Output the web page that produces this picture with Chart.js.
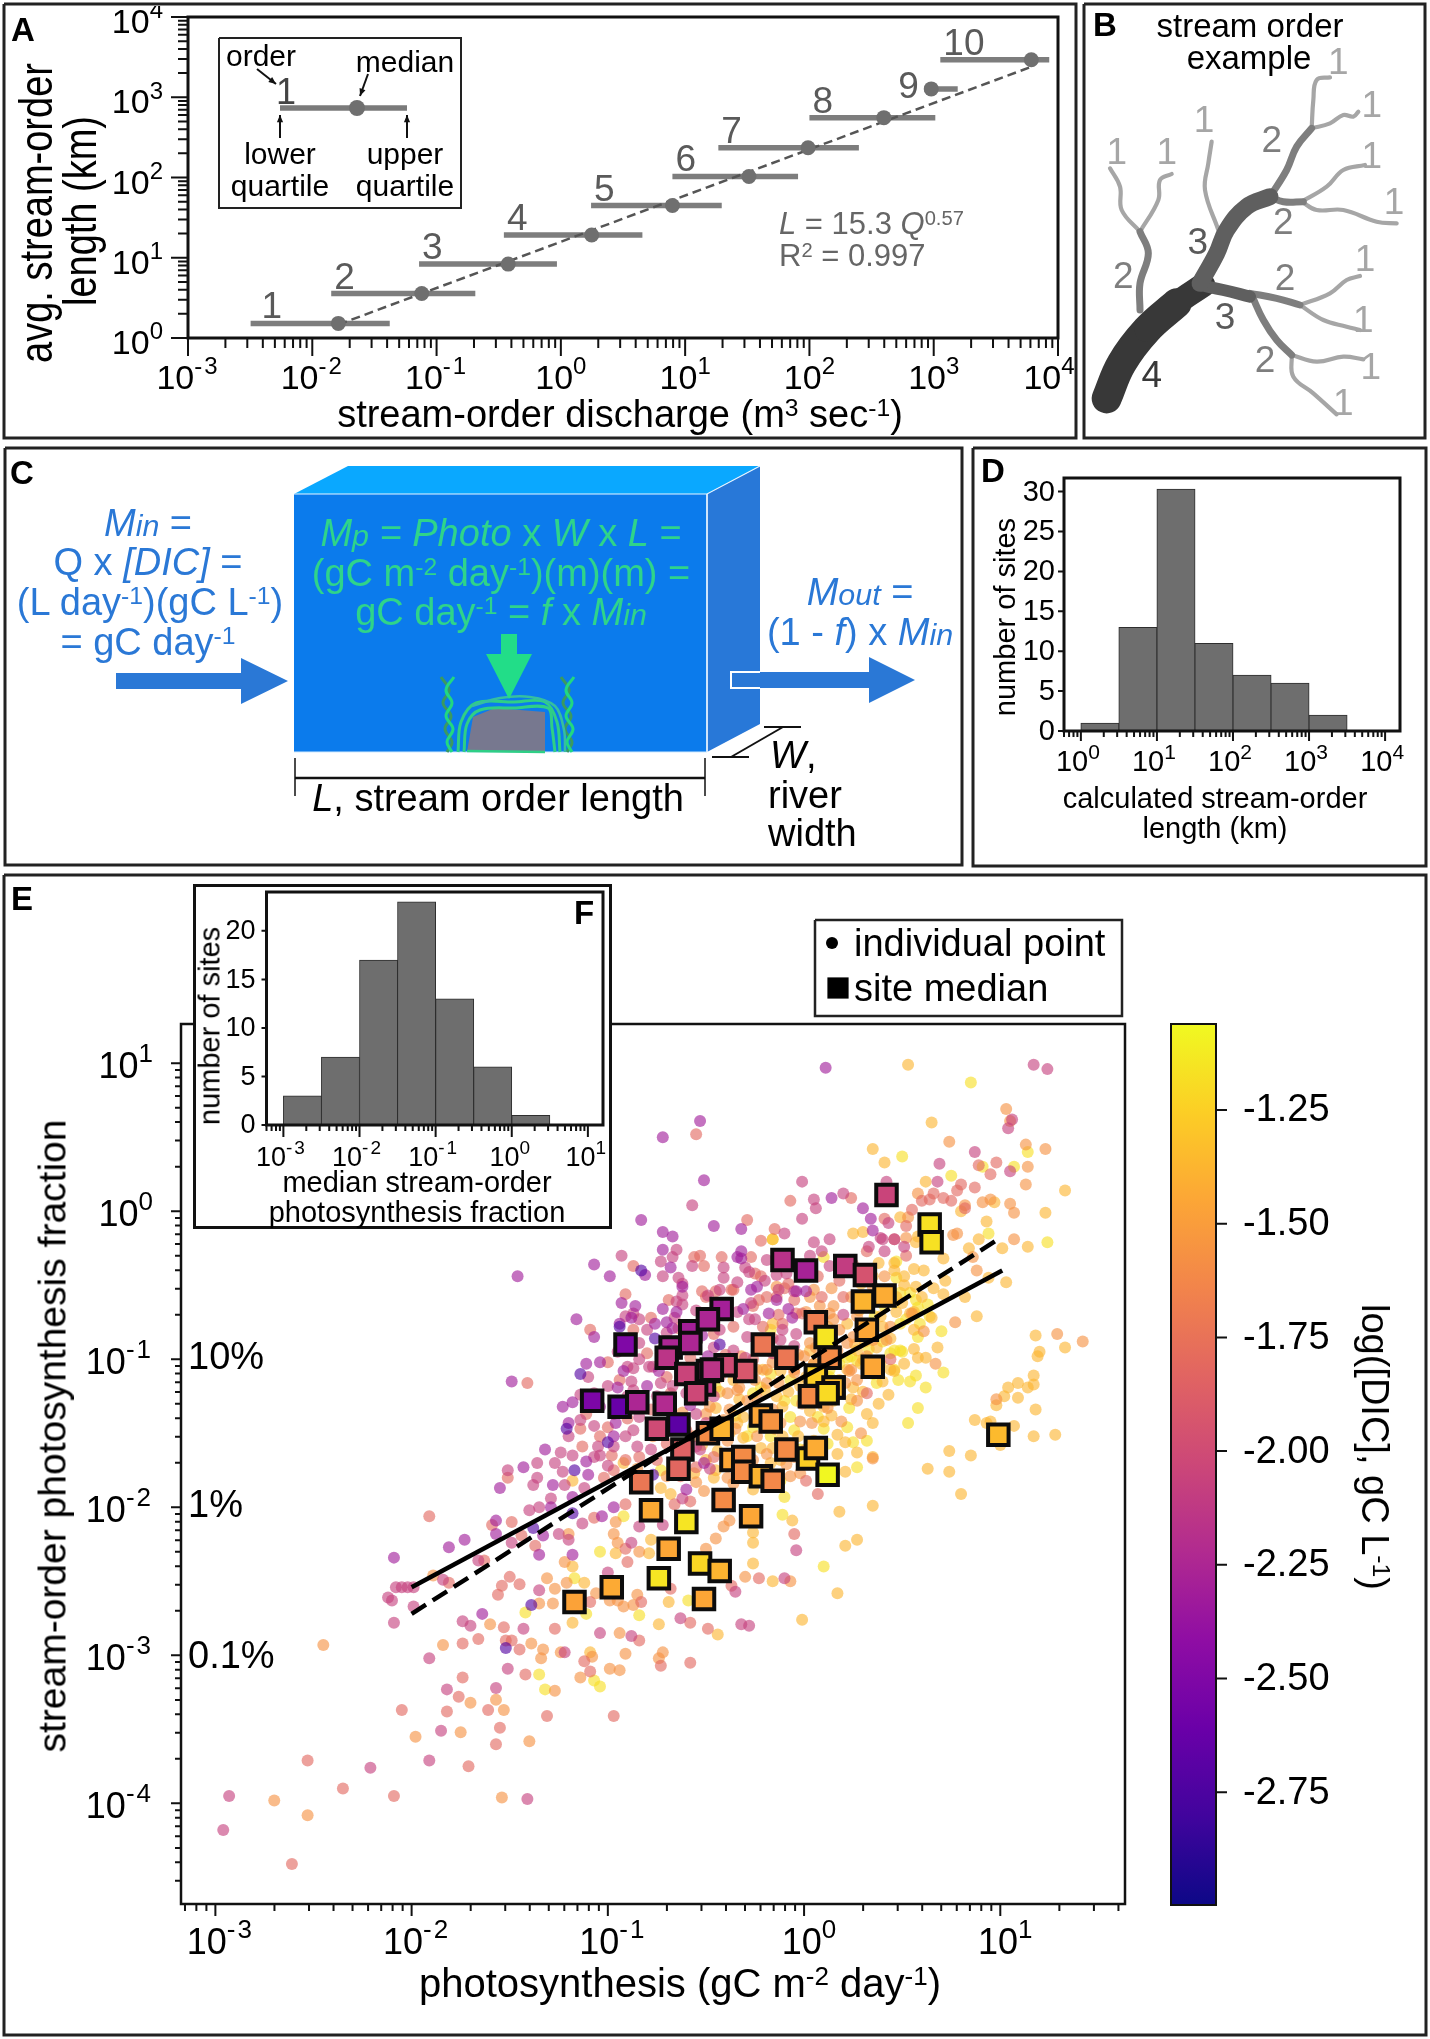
<!DOCTYPE html>
<html>
<head>
<meta charset="utf-8">
<title>Stream order and photosynthesis fraction</title>
<script src="https://cdn.jsdelivr.net/npm/chart.js@4"></script>
<style>
body { margin: 0; background: #fff; width: 1430px; height: 2039px; position: relative; overflow: hidden; font-family: "Liberation Sans", Arial, sans-serif; }
canvas { position: absolute; }
.lab { position: absolute; white-space: nowrap; line-height: 1; }
.lab sup { font-size: .65em; position: relative; top: -.45em; vertical-align: baseline; line-height: 0; }
.lab small { font-size: .8em; }
</style>
</head>
<body>
<script>
// Panel A: stream-order discharge quartiles and average length
const orders = ["1", "2", "3", "4", "5", "6", "7", "8", "9", "10"];
const dischargeQ25 = [0.00319, 0.0142, 0.0723, 0.348, 1.75, 7.9, 18.5, 100, 840, 1130];
const dischargeMedian = [0.0162, 0.076, 0.377, 1.77, 7.9, 32.6, 97.5, 397, 955, 6100];
const dischargeQ75 = [0.042, 0.205, 0.93, 4.53, 19.7, 81, 250, 1030, 1560, 8500];
const orderLength = [1.52, 3.58, 8.33, 19.2, 44.7, 103, 235, 557, 1270, 2930];
const lengthFit = [[0.0162, 1.47], [6100, 2400]];
const dischargeExps = [-3, -2, -1, 0, 1, 2, 3, 4];
const lengthExps = [0, 1, 2, 3, 4];

// Panel D: histogram of calculated length, half-decade bins
const lengthBinCentres = [1.78, 5.62, 17.8, 56.2, 178, 562, 1778];
const lengthBinSites = [1, 13, 30.3, 11, 7, 6, 2];
const lengthBinExps = [0, 1, 2, 3, 4];
const siteTicks = [0, 5, 10, 15, 20, 25, 30];

// Panel F: histogram of median photosynthesis fraction
const fractionBinCentres = [0.00178, 0.00562, 0.0178, 0.0562, 0.178, 0.562, 1.78];
const fractionBinSites = [3, 7, 17, 23, 13, 6, 1];
const fractionBinExps = [-3, -2, -1, 0, 1];
const fractionSiteTicks = [0, 5, 10, 15, 20];

// Panel E: individual points as [log10 photosynthesis, log10 fraction], one list per DIC level
const dicLevels = [-1.18, -1.38, -1.56, -1.82, -2.08, -2.32, -2.72];
const pointsYellow = [[.85,.87],[.50,.37],[.91,.30],[1.07,.30],[.75,.24],[1.14,.40],[1.24,-.21],[.94,-.15],[.10,-.31],[.47,-.34],[.63,-.63],[.58,-.65],[.57,-.60],[.70,-.81],[.50,-.95],[.71,-1.09],[.57,-1.11],[.44,-.96],[.49,-.94],[.46,-1.07],[.58,-.85],[.54,-.55],[.64,-.71],[.49,-.76],[-.17,-.80],[-.16,-.19],
  [-.26,-1.23],[-.07,-1.39],[.10,-1.47],[-.04,-1.28],[.23,-1.33],[.22,-.99],[.13,-1.07],[-.07,-1.14],[-.45,-1.19],[-.17,-1.52],[-.12,-1.82],[-.29,-1.79],[-.02,-1.61],[.12,-1.57],[-.92,-2.06],[-1.04,-2.30],[-1.17,-2.48],[-.59,-2.63],[-.84,-2.73],[-1.42,-2.71],[-1.11,-2.72],[-.11,-2.05],[-.10,-1.93],[.10,-2.40],[.32,-1.55],[.25,-1.56],[.27,-1.73],
  [-1.35,-3.13],[-1.32,-3.23],[-1.07,-3.17],[-1.04,-3.21],[.48,-1.14],[.37,-1.16],[.54,-1.15],[.62,-1.19],[.58,-1.33],[.53,-1.43],
  [.13,-1.12],[.46,-.94],[.32,-.80],[.46,-.62],[-.17,-1.10],[-.73,-1.75],[.08,-1.61],[-.26,-1.46],[.05,-1.27],[.18,-1.23],[.22,-1.46],[-.22,-1.19],[-.31,-1.07],[.49,-.55],[.47,-.45],[.41,-.64],[.18,-1.03],[.35,-1.10],[.59,-.76],
  [-.35,-1.38],[-.18,-1.42],[-.05,-1.48],[.07,-1.39],[.14,-1.16],[.27,-1.01],[.33,-.93],[.40,-.88],[.24,-.98],[.06,-1.19],[-.10,-1.28],[-.29,-1.52],[.36,-.71],[.52,-.73]];
const pointsAmber = [[.53,.99],[.65,.60],[.35,.42],[.41,.33],[.62,.20],[1.33,.14],[.80,0],[.97,.06],[.93,-.07],[1.23,-.01],[.89,-.19],[1.14,-.24],[1.01,-.25],[.84,-.25],[.71,-.32],[1.03,-.48],[.94,-.45],[.71,-.56],[.82,-.58],[.88,-.71],[.65,-.72],[.56,-.68],[.51,-.44],[.46,-.40],[.56,-.39],[.61,-.40],[.51,-.50],[.38,-.35],[.25,-.15],[.30,-.14],[-.16,-.19],[.58,-.17],[.57,-.21],[.49,-.04],[.68,-.92],[.56,-.93],[.58,-.99],[.62,-.99],[1.18,-.84],[1.33,-.92],[1.20,-.95],[1.19,-.98],[1.17,-1.11],[.22,-.76],[.32,-.80],[.39,-.71],[.47,-.68],[.03,-.94],[.27,-.94],[.44,-1.07],[.56,-.80],[-.16,-.76],
  [-.31,-1.39],[-.11,-1.32],[.03,-1.35],[.10,-1.32],[.17,-1.51],[.30,-1.0],[.34,-1.07],[.18,-1.14],[.25,-1.19],[-.45,-1.33],[-.21,-1.07],[-.36,-1.14],[-.43,-1.22],[-.31,-1.53],[-.11,-1.52],[-.17,-1.70],[-.45,-1.75],[-.46,-1.80],[-.26,-1.88],[-.16,-1.60],[.05,-1.55],[.17,-1.64],[-.92,-1.70],[-.96,-2.31],[-.79,-2.31],[-.78,-2.22],[-1.18,-1.82],[-1.18,-2.40],[-1.12,-2.51],[-.69,-2.64],[-1.18,-2.78],[-1.09,-2.98],[-.74,-2.79],[-.44,-2.86],[-.01,-2.76],[-.16,-2.50],[-.26,-2.38],[.17,-2.58],[.21,-2.26],[.27,-2.22],[-.26,-2.24],[-.26,-2.17],[-.06,-2.09],[.18,-2.03],[.35,-1.99],[.35,-1.66],[.27,-1.63],[.21,-1.76],[.21,-1.56],[-.68,-1.91],[-.73,-1.87],
  [.63,-1.74],[.74,-1.62],[.74,-1.76],[.85,-1.65],[.80,-1.91],[.87,-1.41],[.93,-1.43],[.95,-1.42],[1.07,-1.45],[1.0,-1.58],[1.17,-1.52],[1.28,-1.51],[1.18,-1.34],[1.09,-1.26],[.98,-1.31],[1.02,-1.25],[1.04,-1.19],[1.09,-1.16],[1.14,-1.19],[1.17,-1.17],[.40,-1.15],[.46,-1.08],
  [.12,-.78],[.05,-1.03],[.22,-1.07],[.39,-1.03],[.40,-.78],[.35,-.44],[.46,-.35],[.05,-1.07],[-.56,-1.77],[-.50,-1.68],[-.39,-1.68],[-.12,-1.68],[-.21,-1.39],[-.34,-1.43],[.32,-1.37],[.35,-1.43],[-.02,-1.18],[-.14,-1.25],[.42,-.58],[.57,-.51],[.29,-.49],[.32,-.64],[.47,-.58],[.10,-.87],[.29,-1.03],[.51,-1.03],
  [-.28,-1.10],[-.20,-1.21],[-.12,-1.08],[-.08,-1.22],[.01,-1.12],[.08,-1.17],[.15,-1.28],[.24,-1.27],[.30,-1.22],[.38,-1.30],[.43,-1.24],[.26,-.90],[.31,-.88],[.37,-.92],[.44,-.86],[.28,-.67],[.34,-.62],[.38,-.58],[.43,-.53],[.50,-.62],[.54,-.69],[.60,-.58],[.66,-.52],[.72,-.47],[-.03,-1.52],[-.22,-1.60],[-.30,-1.62],[-.38,-1.50],[-.44,-1.62],[-.52,-1.58],[.10,-1.42],[.14,-1.38],[-.33,-1.27],[-.25,-1.33]];
const pointsOrange = [[1.03,.69],[1.05,.61],[.74,.47],[1.13,.45],[1.23,.42],[1.14,.30],[1.13,.18],[.58,.12],[.82,.04],[.91,.06],[.95,.08],[1.05,.05],[1.07,-.01],[1.07,-.19],[.86,-.31],[.88,-.40],[.41,-.44],[.53,-.04],[.52,-.18],[.55,-.69],[.61,-.81],[.77,-.75],[.67,-1.03],[1.29,-.83],[1.42,-.88],[.78,-.15],[.76,-.16],[-.14,-.51],[.05,-.53],[.14,-.52],[.15,-.64],[.13,-.69],[.15,-.73],[.01,-.68],[.07,-.76],[.27,-.71],[.44,-.78],[.42,-.87],[0,-.98],[.05,-1.03],[.12,-1.0],[.22,-.89],[.24,-1.07],[.35,-.87],[.35,-1.67],
  [-.85,-1.74],[-.38,-1.34],[-.29,-1.28],[-.02,-1.42],[.04,-1.43],[.23,-1.08],[.27,-1.28],[-.50,-1.37],[-.34,-1.21],[-.19,-1.16],[-.13,-1.16],[-.46,-1.52],[-.39,-1.55],[-.24,-1.52],[-.19,-1.64],[-.26,-1.68],[-.39,-1.80],[-.36,-1.84],[-.07,-1.79],[-.02,-1.77],[-.09,-1.71],[-.55,-1.83],[-1.89,-2.46],[-.96,-2.10],[-.97,-2.18],[-.95,-2.24],[-.84,-2.30],[-1.20,-2.18],[-1.22,-2.37],[-1.31,-2.48],[-1.27,-2.55],[-1.21,-2.51],[-1.28,-2.65],[-1.35,-2.65],[-1.60,-2.79],[-1.84,-2.93],[-1.39,-2.92],[-1.33,-2.96],[-1.34,-3.02],[-1.24,-2.98],[-1.08,-3.01],[-.94,-2.85],[-.91,-2.99],[-.72,-2.98],[-.74,-3.02],[-1.06,-2.58],[-.99,-2.63],[-.95,-2.63],[-.92,-2.67],[-.85,-2.59],[-.87,-2.66],[-.30,-2.47],[-.07,-2.50],[-.45,-2.21],[-.50,-2.28],[-.41,-2.13],[-.38,-2.09],[-.51,-1.89],
  [-1.70,-3.32],[-1.53,-3.37],[-1.57,-3.30],[-1.27,-3.24],[-1.14,-3.15],[-.99,-3.09],[-.94,-3.10],[-2.45,-2.93],[-1.98,-3.55],[-1.75,-3.52],[-1.40,-3.58],[-1.54,-3.96],[-2.70,-3.98],[-2.53,-4.08],[.98,-1.27],
  [.03,-.58],[.08,-.64],[.04,-.73],[.03,-.89],[-.19,-1.07],[-.05,-1.09],[.32,-.98],[.25,-.85],[.18,-.80],[-.48,-1.32],[-.39,-1.23],[-.33,-1.19],[-.24,-1.07],[-.05,-1.07],[-.77,-1.52],[-.70,-1.79],[-.80,-1.84],[-.33,-1.70],[-.05,-1.66],[.01,-1.61],[-.12,-1.43],[-.41,-1.41],[.27,-1.14],[.29,-1.50],[.35,-.51],[.24,-.58],
  [-.32,-.98],[-.25,-1.14],[-.16,-1.02],[-.10,-.95],[-.03,-.97],[.06,-.92],[.10,-.97],[.17,-.94],[.21,-1.16],[.09,-1.24],[-.01,-1.30],[-.16,-1.34],[-.24,-1.26],[-.45,-1.44],[-.35,-1.47],[-.15,-1.47],[.12,-1.33],[.19,-1.42],[-.56,-1.52],[-.62,-1.36],[-.68,-1.48]];
const pointsSalmon = [[-.55,.52],[-.07,.07],[.98,.33],[.89,.31],[.95,.25],[-.29,-.06],[.24,.09],[.41,-.05],[-.15,-.12],[-.22,-.20],[.46,-.19],[.60,.07],[.64,.08],[.66,.12],[.71,.09],[.75,.07],[.78,.14],[.80,.18],[.87,.16],[.82,.02],[.52,-.10],[.55,.01],[.32,-.27],[.52,-.30],[-.87,-.37],[-.56,-.31],[-.53,-.30],[-.51,-.37],[-.42,-.31],[-.27,-.31],[-.52,-.54],[-.45,-.54],[-.37,-.53],[-.25,-.42],[-.22,-.44],[-.08,-.49],[.20,-.58],[-.91,-.56],[-.69,-.60],[-.78,-.72],[-.26,-.64],[-.19,-.58],[-.23,-.60],[-.13,-.70],[-.04,-.69],[-1.09,-.80],[-1,-1.02],[-.50,-.58],[-.36,-.53],[.09,-.58],[-.14,-.58],
  [-1.41,-1.16],[-1.14,-1.47],[-1.13,-1.59],[-1,-1.46],[-.91,-1.68],[-.98,-1.65],[-1.02,-1.80],[-.97,-1.75],[-1.51,-1.80],[-.91,-1.98],[-1.07,-2.07],[-1.91,-2.06],[-1.59,-2.12],[-1.49,-2.10],[-1.44,-2.19],[-.91,-2.28],[-.90,-2.37],[-1.37,-2.26],[-1.63,-2.36],[-1.81,-2.51],[-1.50,-2.47],[-1.54,-2.53],[-1.45,-2.52],[-1.56,-2.59],[-1.53,-2.81],[-1.66,-2.89],[-1.74,-2.92],[-1.52,-2.90],[-1.49,-2.90],[-1.45,-2.96],[-1.27,-2.82],[-1.12,-3.04],[-.84,-2.90],[-.83,-2.64],[-.73,-3.07],[-.58,-3.05],[-.58,-2.78],[-.49,-2.82],[-.68,-2.55],[-.37,-2.53],[-.23,-2.48],[-.05,-2.18],[-.55,-1.73],[-.46,-1.66],[-.58,-1.96],[-.66,-1.98],[.07,-1.91],[.01,-1.82],[-1.09,-2.64],
  [-1.74,-3.15],[-1.76,-3.28],[-2.05,-3.37],[-1.82,-3.38],[-1.61,-3.37],[-1.42,-3.13],[-1.31,-3.41],[-.97,-3.41],[-1.09,-3.11],[-1.55,-3.49],[-1.57,-3.60],[-1.71,-3.75],[-2.35,-3.90],[-2.09,-3.95],[-2.61,-4.41],[-2.53,-3.71],[.32,-1.23],[.44,-1.0],
  [-.05,-.60],[-.01,-.69],[-.11,-.76],[-.21,-.78],[-.36,-.78],[-.22,-.91],[-.26,-1.0],[-.51,-.71],[-.73,-.94],[-.87,-.80],[-.80,-.96],[-.70,-1.12],[-.43,-1.12],[-.36,-1.07],[-.94,-1.14],[-1.11,-1.37],[-.90,-1.40],[-.78,-1.34],[-1.04,-1.52],[-.84,-1.66],[-.75,-1.68],[-.70,-1.57],[-.60,-1.64],[-.63,-1.79],
  [-.64,-.79],[-.58,-.99],[-.46,-.83],[-.40,-.97],[-.16,-.86],[-.10,-.52],[-.02,-.42],[.07,-.44],[.18,-.47],[.25,-.36],[-.68,-1.23],[-.84,-1.27],[-.60,-1.48]];
const pointsPink = [[1.17,.99],[1.24,.96],[1.06,.62],[1.04,.56],[.69,.32],[.87,.40],[1.05,.27],[.68,.20],[.42,.20],[-.57,.04],[-.01,.20],[.05,.08],[.06,.02],[.20,.12],[-.01,-.05],[-.10,-.15],[.05,-.21],[.13,-.19],[.43,-.08],[.39,-.18],[.40,-.19],[.41,-.27],[.33,-.24],[.46,-.19],[.51,-.24],[-.65,-.26],[-.93,-.30],[-.73,-.34],[-.67,-.31],[-.57,-.37],[-.41,-.38],[-.41,-.45],[-.19,-.33],[-.30,-.38],[-.28,-.41],[.13,-.37],[-.72,-.44],[-.64,-.45],[-.62,-.49],[-.62,-.57],[-.49,-.57],[-.14,-.43],[-.09,-.42],[-.05,-.54],[-.87,-.69],[-.91,-.71],[-.65,-.61],[-.62,-.63],[-.34,-.68],[-.90,-1.05],[-.87,-1.06],[-.79,-1.05],[-.84,-.89],[-.43,-.53],[-.27,-.62],[-.25,-.73],[-.11,-.80],[.20,-.70],
  [-.88,-1.15],[-1.10,-1.12],[-1.14,-1.24],[-1.20,-1.52],[-1.07,-1.45],[-1.05,-1.59],[-.91,-1.52],[-1.04,-1.65],[-1.24,-1.63],[-1.18,-1.65],[-1.27,-1.70],[-1.36,-1.70],[-1.51,-1.75],[-1.36,-1.80],[-1.38,-1.85],[-1.23,-1.76],[-1.22,-1.85],[-1.12,-1.87],[-.85,-1.59],[-.78,-1.61],[-1.29,-1.94],[-1.40,-2.02],[-1.35,-2],[-1.25,-2.18],[-1.20,-2.22],[-1.13,-2.11],[-.88,-2.24],[-1.49,-2.24],[-1.66,-2.36],[-1.84,-2.49],[-2.08,-2.54],[-2.05,-2.54],[-2.02,-2.54],[-1.99,-2.54],[-2.12,-2.61],[-2.10,-2.63],[-1.99,-2.67],[-2.09,-2.78],[-1.35,-2.56],[-1.00,-2.44],[-1.74,-2.77],[-1.70,-2.80],[-1.43,-2.82],[-1.91,-3.02],[-1.22,-2.98],[-1.04,-2.85],[-.88,-2.87],[-.63,-2.75],[-.32,-2.79],[-.28,-2.80],[-.35,-2.57],[-.10,-2.48],[-.04,-2.29],[-.62,-1.94],[-.72,-2.12],[-.84,-2.13],[-.48,-1.74],[-.53,-1.61],
  [-1.82,-3.23],[-1.57,-3.22],[-1.51,-3.09],[-1.85,-3.51],[-2.21,-3.76],[-1.91,-3.71],[-1.41,-3.97],[-2.93,-3.95],[-2.96,-4.18],
  [-.13,-.53],[-.04,-.83],[-.05,-.91],[-.12,-.87],[-.28,-.73],[-.29,-.85],[-.16,-.96],[-.36,-.94],[-.43,-.80],[-.55,-.67],[-.53,-.76],[-.60,-.83],[-.80,-.80],[-.84,-.73],[-.90,-.91],[-.84,-1.0],[-.77,-1.05],[-.53,-1.07],[-1.0,-1.18],[-.87,-1.21],[-.73,-1.16],[-.67,-1.18],[-.60,-1.23],[-1.07,-1.23],[-.97,-1.37],[-.84,-1.39],[-.87,-1.48],[-1.14,-1.41],[-1.07,-1.66],[-.97,-1.59],[-.55,-1.59],[-.55,-1.37],[-.53,-1.18],[-.46,-1.25],
  [-.95,-.95],[-.70,-.82],[-.66,-.72],[-.57,-.90],[-.46,-.92],[-.40,-.68],[-.34,-.48],[-.20,-.47],[-.08,-.36],[.03,-.30],[.09,-.27],[-.43,-1.00],[-.30,-.99],[-.75,-1.25],[-.66,-1.40],[-.50,-1.43],[-1.0,-1.72],[-.90,-1.25]];
const pointsPurple = [[.11,.97],[-.53,.61],[-.72,.50],[-.51,.21],[-.83,-.06],[-.46,-.10],[-.32,-.12],[-.72,-.14],[-.67,-.17],[.14,.09],[.30,.02],[.34,-.05],[.35,-.13],[-.72,-.26],[-1.07,-.36],[-.81,-.43],[-.99,-.44],[-1.46,-.44],[-.68,-.38],[-.32,-.27],[-.34,-.31],[-.32,-.32],[-.62,-.51],[-.24,-.51],[.01,-.54],[-.93,-.62],[-.86,-.64],[-.72,-.66],[-.65,-.68],[-1.16,-.73],[-.94,-.76],[-1.07,-.85],[-.76,-.76],[-.70,-.75],[-.67,-.79],[-.31,-.66],[-.18,-.69],[-.08,-.66],[-.06,-.72],[-1.11,-1.03],[-1.04,-1.02],[-.49,-.98],
  [-1.49,-1.15],[-1.23,-1.32],[-1.18,-1.29],[-1.20,-1.43],[-.96,-1.43],[-1.11,-1.69],[-1.32,-1.61],[-1.43,-1.73],[-1.55,-1.87],[-1.10,-1.78],[-1.28,-1.85],[-1.18,-1.93],[-1.29,-2],[-1.57,-2.09],[-1.57,-2.18],[-1.33,-2.19],[-1.03,-2.06],[-.97,-2],[-1.81,-2.27],[-1.73,-2.22],[-1.35,-2.32],[-1.18,-2.32],[-2.09,-2.34],[-1.64,-2.72],[-.60,-1.88],[-.04,-.54],[-.95,-1.19],
  [-.80,-1.18],[-1.04,-1.32],[-.97,-1.52],[-.51,-1.70],[-.58,-1.31],[-.88,-.72],[-.52,-.84],[-.43,-.62],[-.27,-.53],[-.14,-.60],[-.74,-1.08],[-.92,-1.08]];
const pointsIndigo = [[-.83,-.40],[-.76,-.86],[-.43,-.90],[-1.14,-1.10],[-1.21,-1.47],[-1,-1.56],[-1.17,-1.75],[-.77,-1.78],[-1.38,-2.14],[-1.18,-2.04],[-1.39,-2.66],[-1.52,-2.95],[-.94,-.78]];
const individualPoints = [pointsYellow, pointsAmber, pointsOrange, pointsSalmon, pointsPink, pointsPurple, pointsIndigo];

// Site medians as [log10 photosynthesis, log10 fraction, log10 DIC]
const siteMedians = [[-.58,-.81,-2.3],[-.68,-.92,-2.25],[-.51,-1.17,-2.15],[.42,.11,-2.05],[.64,-.09,-1.17],[.65,-.21,-1.17],[-.11,-.33,-2.17],[.01,-.40,-2.28],[.21,-.37,-2.1],[.31,-.43,-1.95],[.41,-.57,-1.42],[.30,-.61,-1.38],[.32,-.80,-1.45],[.06,-.75,-1.68],[.11,-.85,-1.15],[-.21,-.90,-1.72],[-.09,-.99,-1.72],[.35,-1.05,-1.45],[.13,-.99,-1.6],[.15,-1.19,-1.35],[.06,-1.11,-1.25],[-.30,-1.08,-1.92],[-.40,-1.04,-2.0],[-.49,-1.08,-2.15],[-.42,-.66,-2.3],[-.49,-.73,-2.25],[-.70,-.99,-2.15],[-.58,-.89,-2.25],[-.91,-.90,-2.5],[-.60,-1.10,-2.05],[-.47,-1.07,-2.15],[-1.08,-1.28,-2.52],[-.94,-1.32,-2.62],[-.85,-1.29,-2.25],[-.71,-1.30,-2.22],[-.75,-1.47,-2.0],[-.64,-1.44,-2.68],[-.55,-1.23,-2.02],[-.62,-1.61,-1.85],[-.64,-1.74,-1.82],[-.83,-1.83,-1.72],[-.78,-2.02,-1.43],[-.60,-2.10,-1.15],[-.69,-2.28,-1.45],[-.53,-2.38,-1.22],[-.43,-2.43,-1.38],[-.74,-2.48,-1.15],[-.98,-2.54,-1.43],[-1.17,-2.64,-1.47],[-.51,-2.62,-1.45],[-.41,-1.95,-1.6],[-.27,-2.06,-1.45],[-.49,-1.50,-1.6],[-.42,-1.47,-1.38],[-.22,-1.38,-1.45],[-.17,-1.42,-1.55],[-.37,-1.68,-1.45],[-.31,-1.66,-1.6],[-.31,-1.76,-1.6],[-.22,-1.79,-1.38],[-.16,-1.82,-1.62],[-.09,-1.61,-1.6],[.02,-1.67,-1.25],[.06,-1.60,-1.42],[.12,-1.78,-1.07],[.03,-1.25,-1.6],[.15,-1.19,-1.35],[.12,-1.23,-1.2],[.99,-1.51,-1.35]];
const fitSolid = [[-2.0, -2.54], [1.01, -0.40]];
const fitDashed = [[-2.0, -2.72], [1.0, -0.18]];
const photoExps = [-3, -2, -1, 0, 1];
const fractionExps = [-4, -3, -2, -1, 0, 1];

// Colour bar
const colorbarTicks = [-2.75, -2.5, -2.25, -2, -1.75, -1.5, -1.25];
const colorbarRange = [-2.998, -1.061];
const plasmaStops = ["#0d0887", "#41049d", "#6a00a8", "#8f0da4", "#b12a90", "#cc4778", "#e16462", "#f2844b", "#fca636", "#fcce25", "#f0f921"];

// Panel B: river branches, in the sketch's own units
const branchesOrder1 = [
  [[695,385],[700,300],[710,240],[750,232]], [[695,385],[750,370],[790,345],[820,350],[835,335]],
  [[665,605],[740,560],[790,510],[855,495]], [[665,605],[710,630],[790,630],[890,665],[950,670]],
  [[660,915],[750,880],[800,840],[840,828]], [[660,915],[730,960],[800,980],[840,990]],
  [[635,1065],[710,1085],[790,1070],[850,1078]], [[635,1065],[640,1130],[700,1180],[770,1243]],
  [[180,695],[125,630],[120,560],[90,505]], [[180,695],[235,600],[240,540],[275,522]],
  [[415,690],[375,570],[385,490],[395,425]]];
const branchesOrder2 = [
  [[570,590],[620,510],[650,440],[695,385]], [[570,590],[610,605],[670,605]],
  [[510,880],[590,895],[660,915]], [[515,885],[550,960],[590,1020],[635,1065]],
  [[180,930],[180,850],[205,760],[180,695]]];
const stemOrder3 = [[360,850],[410,760],[440,690],[500,620],[570,590]];
const forkOrder3 = [[360,855],[430,870],[510,890]];
const trunkMouth = [[80,1195],[125,1090],[200,990],[290,910]];
const trunkUpper = [[200,990],[290,910],[370,855]];
const branchLabels = [
  ["1",775,190],["1",875,320],["1",875,473],["1",942,612],["1",855,783],["1",850,965],["1",872,1107],["1",790,1215],["1",110,460],["1",260,460],["1",372,365],
  ["2",575,425],["2",610,672],["2",615,840],["2",130,832],["2",555,1085],["3",353,730],["3",435,955],["4",215,1130]];

function plasma(dic) {
  const t = Math.max(0, Math.min(1, (dic + 3) / 1.94)) * 10;
  const i = Math.min(9, Math.floor(t));
  const mix = n => {
    const a = parseInt(plasmaStops[i].substr(n, 2), 16), b = parseInt(plasmaStops[i + 1].substr(n, 2), 16);
    return Math.round(a + (b - a) * (t - i));
  };
  return [mix(1), mix(3), mix(5)];
}
const rgb = (c, a) => `rgba(${c[0]},${c[1]},${c[2]},${a})`;
const fontName = '"Liberation Sans", Arial, sans-serif';

Chart.defaults.animation = false;
Chart.defaults.responsive = false;
Chart.defaults.font.family = fontName;
Chart.defaults.layout.autoPadding = false;
Chart.defaults.plugins.legend.display = false;
Chart.defaults.plugins.tooltip.enabled = false;

function newCanvas(r, white) {
  const c = document.createElement("canvas");
  c.width = r[2];
  c.height = r[3];
  c.style.left = r[0] + "px";
  c.style.top = r[1] + "px";
  if (white) c.style.background = "#fff";
  document.body.appendChild(c);
  return c;
}
function padding(r, p) {
  return { left: p.left - r[0], top: p.top - r[1], right: r[0] + r[2] - p.right, bottom: r[1] + r[3] - p.bottom };
}
function bareAxis(extra) {
  return Object.assign({ ticks: { display: false }, grid: { display: false, drawTicks: false }, border: { display: false } }, extra);
}
const pointsOf = list => list.map(p => ({ x: p[0], y: p[1] }));
const logPoints = list => list.map(p => ({ x: 10 ** p[0], y: 10 ** p[1] }));

function powerLabel(c, exp, x, y, size, anchor) {
  const big = size + "px " + fontName, small = Math.round(size * 0.72) + "px " + fontName;
  c.font = big;
  const w1 = c.measureText("10").width;
  c.font = small;
  c.letterSpacing = exp < 0 ? "2px" : "0px";
  const w2 = c.measureText(String(exp)).width;
  const left = anchor === "right" ? x - w1 - w2 : x - (w1 + w2) / 2;
  c.textAlign = "left";
  c.textBaseline = "alphabetic";
  c.fillText(String(exp), left + w1, y - size * 0.08);
  c.letterSpacing = "0px";
  c.font = big;
  c.fillText("10", left, y + size * 0.36);
}
function logTickList(scale, exps) {
  const out = [];
  for (let e = exps[0] - 1; e <= exps[exps.length - 1]; e++) {
    for (let m = 1; m < 10; m++) {
      const v = m * 10 ** e;
      if (v >= scale.min * 0.9999 && v <= scale.max * 1.0001) out.push({ v, major: m === 1 });
    }
  }
  return out;
}
// Frame, ticks and tick labels, all placed through the chart's scales
function axesPlugin(o) {
  return {
    id: "axesDraw",
    afterDraw(chart) {
      const c = chart.ctx, a = chart.chartArea, xs = chart.scales.x, ys = chart.scales.y;
      c.save();
      c.strokeStyle = "#111";
      c.fillStyle = "#000";
      c.lineWidth = o.line;
      c.strokeRect(a.left, a.top, a.width, a.height);
      if (o.box) c.strokeRect(o.line / 2, o.line / 2, chart.width - o.line, chart.height - o.line);
      c.lineWidth = o.tick;
      c.beginPath();
      if (o.xExps) logTickList(xs, o.xExps).forEach(t => {
        const px = xs.getPixelForValue(t.v);
        c.moveTo(px, a.bottom);
        c.lineTo(px, a.bottom + (t.major ? o.xMajor : o.xMinor));
      });
      if (o.yExps) logTickList(ys, o.yExps).forEach(t => {
        const py = ys.getPixelForValue(t.v);
        c.moveTo(a.left, py);
        c.lineTo(a.left - (t.major ? o.yMajor : o.yMinor), py);
      });
      if (o.yValues) o.yValues.forEach(v => {
        const py = ys.getPixelForValue(v);
        const sx = o.yRight ? a.right : a.left;
        c.moveTo(sx, py);
        c.lineTo(sx + (o.yRight ? o.yMajor : -o.yMajor), py);
      });
      c.stroke();
      if (o.xExps) o.xExps.forEach((e, i) => {
        const last = i === o.xExps.length - 1 ? (o.xLastShift || 0) : 0;
        powerLabel(c, e, xs.getPixelForValue(10 ** e) + (o.xShift || 0) + last, a.bottom + o.xLabel, o.size, "center");
      });
      if (o.yExps) o.yExps.forEach(e => {
        powerLabel(c, e, a.left - o.yGap, ys.getPixelForValue(10 ** e) + (o.yShift || 0), o.size, "right");
      });
      if (o.yValues) {
        c.font = o.size + "px " + fontName;
        c.textBaseline = "middle";
        c.textAlign = o.yRight ? "left" : "right";
        o.yValues.forEach(v => {
          const label = o.yRight ? v.toFixed(2) : String(v);
          c.fillText(label, o.yRight ? a.right + o.yGap : a.left - o.yGap, ys.getPixelForValue(v) + 1);
        });
      }
      c.restore();
    }
  };
}

// Sketch layer: panel frames, schematic of panel C, key of panel A, legend box of panel E
const sketchSets = [];
function stroke(pts, color, width, extra) {
  sketchSets.push(Object.assign({ data: pointsOf(pts), borderColor: color, borderWidth: width, pointRadius: 0, fill: false, tension: 0 }, extra));
}
function shape(pts, color) {
  sketchSets.push({ data: pointsOf(pts), backgroundColor: color, borderColor: color, borderWidth: 0, pointRadius: 0, fill: "shape", tension: 0 });
}
function frame(l, t, r, b, width, color) {
  stroke([[l, t], [r, t], [r, b], [l, b], [l, t]], color || "#222", width);
}
function arrow(from, to) {
  stroke([from, to], "#111", 2);
  const ang = Math.atan2(to[1] - from[1], to[0] - from[0]), h = 8;
  shape([to, [to[0] - h * Math.cos(ang - 0.4), to[1] - h * Math.sin(ang - 0.4)], [to[0] - h * Math.cos(ang + 0.4), to[1] - h * Math.sin(ang + 0.4)]], "#111");
}
frame(4, 4, 1076, 438, 3);
frame(1084, 4, 1425, 438, 3);
frame(5, 448, 962, 865, 3);
frame(973, 448, 1426, 866, 3);
frame(4, 875, 1426, 2035, 3);
frame(219, 38, 461, 208, 2);
stroke([[280, 108], [407, 108]], "#7a7a7a", 5.5);
sketchSets.push({ data: [{ x: 357, y: 108 }], backgroundColor: "#6f6f6f", borderWidth: 0, pointRadius: 8, showLine: false });
arrow([257, 69], [276, 84]);
arrow([368, 74], [360, 96]);
arrow([280, 138], [280, 115]);
arrow([407, 138], [407, 115]);
frame(815, 920, 1122, 1016, 2.5);
sketchSets.push({ data: [{ x: 832, y: 943 }], backgroundColor: "#000", borderWidth: 0, pointRadius: 6, showLine: false });
sketchSets.push({ data: [{ x: 838, y: 988 }], backgroundColor: "#000", borderWidth: 0, pointRadius: 15, pointStyle: "rect", showLine: false });
// river box
shape([[294, 494], [348, 466], [760, 466], [707, 494]], "#0aa8ff");
shape([[707, 494], [760, 466], [760, 724], [707, 752]], "#2878d8");
shape([[294, 494], [707, 494], [707, 752], [294, 752]], "#0b7bec");
stroke([[294, 494], [707, 494], [760, 466]], "#e8f4ff", 1.2);
stroke([[707, 494], [707, 752]], "#e8f4ff", 1);
stroke([[294, 752], [707, 752]], "#cfeaff", 1);
// water in and out arrows
shape([[116, 673], [241, 673], [241, 658], [288, 681], [241, 704], [241, 689], [116, 689]], "#2a78d6");
shape([[731, 672], [869, 672], [869, 657], [915, 680], [869, 703], [869, 688], [731, 688]], "#2a78d6");
stroke([[760, 672], [731, 672], [731, 688], [760, 688]], "#fff", 2);
// rock, moss, plants
const plantLeftA = [[441, 677], [449, 690], [443, 703], [451, 716], [445, 729], [452, 742], [447, 752]];
const plantLeftB = [[454, 677], [446, 690], [452, 703], [446, 716], [453, 729], [447, 742], [452, 752]];
[0, 120].forEach(dx => {
  stroke(plantLeftA.map(p => [p[0] + dx, p[1]]), "#3a9a60", 3, { tension: 0.4 });
  stroke(plantLeftB.map(p => [p[0] + dx, p[1]]), "#22d880", 3, { tension: 0.4 });
});
shape([[467, 752], [473, 717], [495, 708], [545, 712], [545, 752]], "#77788f");
stroke([[458, 752], [461, 722], [476, 703], [514, 702], [545, 702], [557, 722], [560, 752]], "#2fcf86", 3, { tension: 0.35 });
stroke([[464, 752], [467, 724], [480, 710], [514, 708], [548, 708], [552, 728], [555, 752]], "#2fcf86", 3, { tension: 0.35 });
stroke([[472, 706], [500, 698], [530, 697], [555, 706], [564, 730], [565, 752]], "#35bfa0", 2.5, { tension: 0.35 });
stroke([[467, 751], [545, 752]], "#2fcf86", 2.5);
shape([[501, 634], [517, 634], [517, 654], [532, 654], [509, 699], [486, 654], [501, 654]], "#22dd88");
// length and width brackets
stroke([[295, 778], [705, 778]], "#111", 2.5);
stroke([[295, 758], [295, 796]], "#111", 1.5);
stroke([[705, 758], [705, 796]], "#111", 1.5);
stroke([[764, 727], [801, 727]], "#111", 2);
stroke([[712, 757], [749, 757]], "#111", 2);
stroke([[783, 727], [731, 757]], "#111", 2);

const sketchBox = [0, 0, 1430, 2039];
new Chart(newCanvas(sketchBox), {
  type: "line",
  data: { datasets: sketchSets.slice().reverse() },
  options: {
    layout: { padding: 0 },
    scales: {
      x: bareAxis({ type: "linear", min: 0, max: 1430 }),
      y: bareAxis({ type: "linear", min: 0, max: 2039, reverse: true })
    }
  }
});

// Panel E
const boxE = [4, 876, 1422, 1158], plotE = { left: 181, top: 1024, right: 1125, bottom: 1904 };
const medianColors = siteMedians.map(m => rgb(plasma(m[2]), 1));
new Chart(newCanvas(boxE), {
  type: "line",
  data: {
    datasets: [
      { data: logPoints(fitSolid), borderColor: "#000", borderWidth: 4.5, pointRadius: 0, fill: false },
      { data: logPoints(fitDashed), borderColor: "#000", borderWidth: 4.5, borderDash: [17, 8], pointRadius: 0, fill: false },
      { data: logPoints(siteMedians), showLine: false, pointStyle: "rect", pointRadius: 14.5, pointBackgroundColor: medianColors, pointBorderColor: "#0c0c0c", pointBorderWidth: 4 },
      ...individualPoints.slice().reverse().map((list, i, all) => ({
        data: logPoints(list), showLine: false, pointRadius: 6, pointBorderWidth: 0,
        pointBackgroundColor: rgb(plasma(dicLevels[all.length - 1 - i]), 0.62)
      }))
    ]
  },
  options: {
    layout: { padding: padding(boxE, plotE) },
    scales: {
      x: bareAxis({ type: "logarithmic", min: 6.68e-4, max: 43.2 }),
      y: bareAxis({ type: "logarithmic", min: 2.09e-5, max: 18.4 })
    }
  },
  plugins: [axesPlugin({ line: 2.5, tick: 2, xExps: photoExps, yExps: fractionExps, xMajor: 12, xMinor: 7, yMajor: 10, yMinor: 6, xLabel: 37, xShift: 5, yGap: 28, yShift: 2, size: 36 })]
});

// Colour bar
const boxBar = [1160, 1015, 262, 900], plotBar = { left: 1171, top: 1024, right: 1216, bottom: 1905 };
new Chart(newCanvas(boxBar), {
  type: "bar",
  data: {
    labels: ["log([DIC], gC L-1)"],
    datasets: [{
      data: [colorbarRange], barPercentage: 1, categoryPercentage: 1,
      backgroundColor(ctx) {
        const a = ctx.chart.chartArea;
        if (!a) return "#000";
        const g = ctx.chart.ctx.createLinearGradient(0, a.bottom, 0, a.top);
        plasmaStops.forEach((s, i) => g.addColorStop(i / 10, s));
        return g;
      }
    }]
  },
  options: {
    layout: { padding: padding(boxBar, plotBar) },
    scales: {
      x: bareAxis({}),
      y: bareAxis({ type: "linear", min: colorbarRange[0], max: colorbarRange[1] })
    }
  },
  plugins: [axesPlugin({ line: 2, tick: 2, yValues: colorbarTicks, yRight: true, yMajor: 11, yGap: 27, size: 38 })]
});

// Histograms D and F
function histogram(box, plot, xMin, xMax, yMax, centres, sites, axes) {
  const binPx = (plot.right - plot.left) / Math.log10(xMax / xMin) / 2;
  new Chart(newCanvas(box, axes.box), {
    type: "bar",
    data: { datasets: [{
      data: centres.map((x, i) => ({ x, y: sites[i] })),
      barThickness: binPx, backgroundColor: "#6e6e6e", borderColor: "#2e2e2e", borderWidth: 1
    }] },
    options: {
      layout: { padding: padding(box, plot) },
      scales: {
        x: bareAxis({ type: "logarithmic", min: xMin, max: xMax, offset: false }),
        y: bareAxis({ type: "linear", min: 0, max: yMax })
      }
    },
    plugins: [axesPlugin(axes)]
  });
}
histogram([973, 448, 453, 418], { left: 1064, top: 478, right: 1400, bottom: 731 }, 0.637, 15700, 31.7, lengthBinCentres, lengthBinSites,
  { line: 3, tick: 2, xExps: lengthBinExps, yValues: siteTicks, xMajor: 10, xMinor: 6, yMajor: 6, xLabel: 30, xShift: -3, yGap: 9, size: 29 });
histogram([193, 884, 419, 345], { left: 266.5, top: 892, right: 603, bottom: 1125 }, 6.18e-4, 15.8, 24, fractionBinCentres, fractionBinSites,
  { line: 3, tick: 2, box: true, xExps: fractionBinExps, yValues: fractionSiteTicks, xMajor: 12, xMinor: 6, yMajor: 5, xLabel: 31, xShift: -2, yGap: 11, size: 27 });

// Panel A
const boxA = [6, 6, 1068, 430], plotA = { left: 188, top: 17, right: 1058, bottom: 338 };
const orderLabelPlugin = {
  id: "orderLabels",
  afterDatasetsDraw(chart) {
    const c = chart.ctx;
    c.save();
    c.font = "37px " + fontName;
    c.fillStyle = "#5a5a5a";
    c.textAlign = "left";
    c.textBaseline = "alphabetic";
    orders.forEach((t, i) => {
      const nudge = t === "9" ? -26 : t === "1" ? 11 : 3;
      const lift = t === "9" ? 9 : -5;
      c.fillText(t, chart.scales.x.getPixelForValue(dischargeQ25[i]) + nudge, chart.scales.y.getPixelForValue(orderLength[i]) + lift);
    });
    c.restore();
  }
};
new Chart(newCanvas(boxA), {
  type: "line",
  data: { datasets: [
    { data: dischargeMedian.map((x, i) => ({ x, y: orderLength[i] })), showLine: false, pointRadius: 7.5, pointBorderWidth: 0, pointBackgroundColor: "#6f6f6f" },
    { data: pointsOf(lengthFit), borderColor: "#555", borderWidth: 2.5, borderDash: [9, 5], pointRadius: 0, fill: false },
    ...orders.map((o, i) => ({
      data: [{ x: dischargeQ25[i], y: orderLength[i] }, { x: dischargeQ75[i], y: orderLength[i] }],
      borderColor: "#7d7d7d", borderWidth: 5.5, pointRadius: 0, fill: false
    }))
  ] },
  options: {
    layout: { padding: padding(boxA, plotA) },
    scales: {
      x: bareAxis({ type: "logarithmic", min: 1e-3, max: 1e4 }),
      y: bareAxis({ type: "logarithmic", min: 1, max: 1e4 })
    }
  },
  plugins: [orderLabelPlugin, axesPlugin({ line: 3, tick: 2, xExps: dischargeExps, yExps: lengthExps, xMajor: 18, xMinor: 10, yMajor: 17, yMinor: 10, xLabel: 39, xLastShift: -9, yGap: 25, yShift: 4, size: 34 })]
});

// Panel B, first dataset ends up on top
const branch = (list, color, width) => ({
  data: pointsOf(list), borderColor: color, borderWidth: width, tension: 0.4, borderCapStyle: "round", borderJoinStyle: "round", pointRadius: 0, fill: false
});
const branchSets = [
  branch(stemOrder3, "#5f5f5f", 17), branch(forkOrder3, "#5f5f5f", 12),
  branch(trunkUpper, "#383838", 24), branch(trunkMouth, "#383838", 30),
  ...branchesOrder2.map(l => branch(l, "#7e7e7e", 7)),
  ...branchesOrder1.map(l => branch(l, "#a6a6a6", 4.2))
];
const branchColors = { "1": "#a6a6a6", "2": "#7e7e7e", "3": "#5a5a5a", "4": "#383838" };
new Chart(newCanvas([1080, 0, 350, 445]), {
  type: "line",
  data: { datasets: branchSets },
  options: {
    layout: { padding: 0 },
    scales: {
      x: bareAxis({ type: "linear", min: 0, max: 1050 }),
      y: bareAxis({ type: "linear", min: 0, max: 1335, reverse: true })
    }
  },
  plugins: [{
    id: "branchLabels",
    afterDraw(chart) {
      const c = chart.ctx;
      c.save();
      c.font = "37px " + fontName;
      c.textAlign = "center";
      c.textBaseline = "middle";
      branchLabels.forEach(l => {
        c.fillStyle = branchColors[l[0]];
        c.fillText(l[0], chart.scales.x.getPixelForValue(l[1]), chart.scales.y.getPixelForValue(l[2]));
      });
      c.restore();
    }
  }]
});

// Text that needs super- and subscripts
const BLUE = "#2a78d6", GREEN = "#2fd48a", GREY = "#666";
const MIN = "<i>M<small>in</small></i>";
const pageLabels = [
  ["<b>A</b>", 23, 29, 33], ["<b>B</b>", 1105, 24, 33], ["<b>C</b>", 22, 472, 33], ["<b>D</b>", 993, 470, 33], ["<b>E</b>", 22, 898, 33], ["<b>F</b>", 584, 912, 33],
  ["avg. stream-order", 36, 213, 38, "#000", -90, "", 1.2], ["length (km)", 80, 211, 38, "#000", -90, "", 1.2],
  ["stream-order discharge (m<sup>3</sup> sec<sup>-1</sup>)", 620, 414, 38],
  ["order", 261, 56, 30], ["median", 405, 62, 30], ["1", 286, 92, 36, "#444"], ["lower", 280, 154, 30], ["quartile", 280, 186, 30], ["upper", 405, 154, 30], ["quartile", 405, 186, 30],
  ["<i>L</i> = 15.3 <i>Q</i><sup>0.57</sup>", 779, 223, 31, GREY, 0, "left"], ["R<sup>2</sup> = 0.997", 779, 255, 31, GREY, 0, "left"],
  ["stream order", 1250, 25, 33], ["example", 1249, 57, 33],
  [MIN + " =", 148, 523, 38, BLUE], ["Q x <i>[DIC]</i> =", 148, 562, 38, BLUE], ["(L day<sup>-1</sup>)(gC L<sup>-1</sup>)", 150, 602, 38, BLUE], ["= gC day<sup>-1</sup>", 148, 642, 38, BLUE],
  ["<i>M<small>p</small> = Photo</i> x <i>W</i> x <i>L</i> =", 501, 533, 38, GREEN], ["(gC m<sup>-2</sup> day<sup>-1</sup>)(m)(m) =", 501, 573, 38, GREEN], ["gC day<sup>-1</sup> = <i>f</i> x " + MIN, 501, 612, 38, GREEN],
  ["<i>M<small>out</small></i> =", 860, 592, 38, BLUE], ["(1 - <i>f</i>) x " + MIN, 860, 632, 38, BLUE],
  ["<i>L</i>, stream order length", 498, 798, 38], ["<i>W</i>,", 770, 755, 38, "#000", 0, "left"], ["river", 768, 795, 38, "#000", 0, "left"], ["width", 768, 833, 38, "#000", 0, "left"],
  ["number of sites", 1005, 617, 29, "#000", -90], ["calculated stream-order", 1215, 798, 29], ["length (km)", 1215, 828, 29],
  ["number of sites", 210, 1026, 29, "#000", -90], ["median stream-order", 417, 1182, 29], ["photosynthesis fraction", 417, 1212, 29],
  ["stream-order photosynthesis fraction", 52, 1436, 39, "#000", -90], ["photosynthesis (gC m<sup>-2</sup> day<sup>-1</sup>)", 680, 1983, 40],
  ["10%", 188, 1356, 38, "#000", 0, "left"], ["1%", 188, 1504, 38, "#000", 0, "left"], ["0.1%", 188, 1655, 38, "#000", 0, "left"],
  ["individual point", 854, 943, 38, "#000", 0, "left"], ["site median", 854, 988, 38, "#000", 0, "left"],
  ["log([DIC], gC L<sup>-1</sup>)", 1375, 1447, 38, "#000", 90]
];
pageLabels.forEach(l => {
  const d = document.createElement("div");
  d.className = "lab";
  d.innerHTML = l[0];
  d.style.left = l[1] + "px";
  d.style.top = l[2] + "px";
  d.style.fontSize = l[3] + "px";
  d.style.color = l[4] || "#000";
  const tx = l[6] === "left" ? "0" : "-50%";
  d.style.transform = `translate(${tx},-50%) rotate(${l[5] || 0}deg) scaleY(${l[7] || 1})`;
  document.body.appendChild(d);
});
</script>
</body>
</html>
